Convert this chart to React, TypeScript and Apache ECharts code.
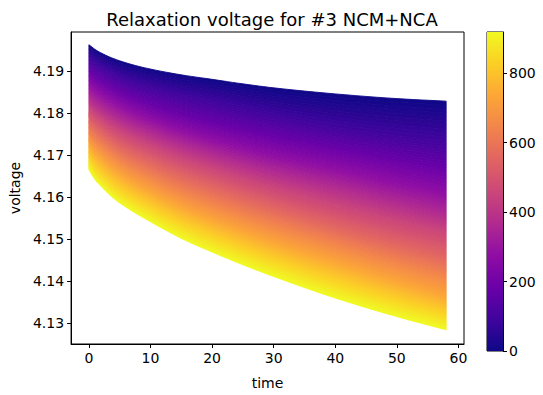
import React, { useEffect, useRef } from "react";
import * as echarts from "echarts";

// relaxation time points (x)
const times = [0, 1, 2, 4, 7, 10, 15, 20, 25, 30, 40, 50, 58];
// cycle numbers of the sampled curves (colour index)
const cycles = [0, 92, 184, 275, 367, 459, 551, 643, 734, 826, 918];

const cycle0 = [4.19637, 4.19525, 4.19439, 4.19306, 4.19163, 4.19056, 4.18918, 4.18811, 4.18703, 4.18608, 4.18463, 4.18351, 4.1829];
const cycle92 = [4.19308, 4.19187, 4.19092, 4.18929, 4.18747, 4.18616, 4.18423, 4.18271, 4.18098, 4.17942, 4.17664, 4.17466, 4.17335];
const cycle184 = [4.1898, 4.1885, 4.18744, 4.18568, 4.18365, 4.18192, 4.1795, 4.17755, 4.1758, 4.17419, 4.17142, 4.16857, 4.16652];
const cycle275 = [4.18681, 4.18542, 4.18432, 4.18252, 4.18027, 4.17844, 4.17579, 4.1736, 4.17161, 4.16978, 4.16665, 4.16326, 4.16078];
const cycle367 = [4.18352, 4.18218, 4.1811, 4.17924, 4.17706, 4.17525, 4.17247, 4.17014, 4.1679, 4.16586, 4.16231, 4.15853, 4.15572];
const cycle459 = [4.18083, 4.17938, 4.17823, 4.17624, 4.17392, 4.17197, 4.16896, 4.16647, 4.16405, 4.16181, 4.15773, 4.15395, 4.15108];
const cycle551 = [4.17814, 4.17646, 4.17515, 4.1729, 4.17039, 4.16831, 4.1651, 4.16242, 4.15982, 4.15735, 4.15286, 4.14869, 4.14556];
const cycle643 = [4.17516, 4.17336, 4.17206, 4.16972, 4.1669, 4.16465, 4.16119, 4.15834, 4.15567, 4.1532, 4.14866, 4.14427, 4.14102];
const cycle734 = [4.17247, 4.17042, 4.16895, 4.16639, 4.16347, 4.16106, 4.15745, 4.15442, 4.15162, 4.14902, 4.14433, 4.13964, 4.13607];
const cycle826 = [4.16948, 4.16731, 4.16575, 4.1631, 4.16017, 4.15774, 4.15396, 4.15088, 4.14795, 4.14523, 4.14024, 4.13569, 4.13236];
const cycle918 = [4.16649, 4.16415, 4.16252, 4.15972, 4.15668, 4.15411, 4.15014, 4.14688, 4.14384, 4.14104, 4.1359, 4.13147, 4.12831];

const curves = [cycle0, cycle92, cycle184, cycle275, cycle367, cycle459, cycle551, cycle643, cycle734, cycle826, cycle918];

const xTicks = [0, 10, 20, 30, 40, 50, 60];
const yTicks = [4.13, 4.14, 4.15, 4.16, 4.17, 4.18, 4.19];
const cbTicks = [0, 200, 400, 600, 800];
const cbMax = 918;

const PLASMA = ["#0d0887", "#41049d", "#6a00a8", "#8f0da4", "#b12a90", "#cc4778", "#e16462", "#f2844b", "#fca636", "#fcce25", "#f0f921"];

function hexToRgb(h: string) {
  return [parseInt(h.slice(1, 3), 16), parseInt(h.slice(3, 5), 16), parseInt(h.slice(5, 7), 16)];
}
function plasma(f: number) {
  const v = Math.max(0, Math.min(1, f)) * (PLASMA.length - 1);
  const i = Math.min(PLASMA.length - 2, Math.floor(v));
  const t = v - i;
  const a = hexToRgb(PLASMA[i]);
  const b = hexToRgb(PLASMA[i + 1]);
  const c = a.map((x, j) => Math.round(x + (b[j] - x) * t));
  return `rgb(${c[0]},${c[1]},${c[2]})`;
}

// monotone cubic (Fritsch-Carlson) smoothing of a pixel polyline, like a smoothed line series
function smoothPts(pts: number[][], sub: number) {
  const n = pts.length;
  const d: number[] = [];
  for (let i = 0; i < n - 1; i++) d.push((pts[i + 1][1] - pts[i][1]) / (pts[i + 1][0] - pts[i][0]));
  const m: number[] = new Array(n);
  m[0] = d[0];
  m[n - 1] = d[n - 2];
  for (let i = 1; i < n - 1; i++) m[i] = d[i - 1] * d[i] <= 0 ? 0 : (d[i - 1] + d[i]) / 2;
  for (let i = 0; i < n - 1; i++) {
    if (d[i] === 0) { m[i] = 0; m[i + 1] = 0; continue; }
    const a = m[i] / d[i], b = m[i + 1] / d[i];
    const s = a * a + b * b;
    if (s > 9) { const t = 3 / Math.sqrt(s); m[i] = t * a * d[i]; m[i + 1] = t * b * d[i]; }
  }
  const out: number[][] = [];
  for (let i = 0; i < n - 1; i++) {
    const [x0, y0] = pts[i];
    const [x1, y1] = pts[i + 1];
    const h = x1 - x0;
    for (let s = 0; s < sub; s++) {
      const t = s / sub;
      const h00 = 2 * t * t * t - 3 * t * t + 1;
      const h10 = t * t * t - 2 * t * t + t;
      const h01 = -2 * t * t * t + 3 * t * t;
      const h11 = t * t * t - t * t;
      out.push([x0 + h * t, h00 * y0 + h10 * h * m[i] + h01 * y1 + h11 * h * m[i + 1]]);
    }
  }
  out.push(pts[n - 1]);
  return out;
}

const FONT = "DejaVu Sans";

export default function App() {
  const ref = useRef<HTMLDivElement>(null);
  useEffect(() => {
    if (!ref.current) return;
    const chart = echarts.init(ref.current, undefined, { renderer: "svg" });
    const bands = curves.slice(0, -1).map((_, k) => [k, k]);
    const axisLine = { show: true, onZero: false, lineStyle: { color: "#000", width: 1 } };
    const tick = { show: true, inside: false, length: 4, lineStyle: { color: "#000", width: 1 } };
    const label = { color: "#000", fontFamily: FONT, fontSize: 14 };
    chart.setOption({
      animation: false,
      backgroundColor: "#fff",
      title: {
        text: "Relaxation voltage for #3 NCM+NCA",
        left: 267,
        textAlign: "center",
        top: 5,
        textStyle: { fontFamily: FONT, fontSize: 18, fontWeight: "normal", color: "#000" },
      },
      grid: [
        { left: 70, top: 32, width: 394, height: 319, show: true, borderColor: "#000", borderWidth: 1 },
        { left: 487, top: 32, width: 16, height: 319, show: true, borderColor: "#000", borderWidth: 1 },
      ],
      xAxis: [
        {
          type: "value",
          gridIndex: 0,
          min: -2.9,
          max: 60.9,
          axisLine,
          splitLine: { show: false },
          axisTick: { ...tick, customValues: xTicks },
          axisLabel: { ...label, customValues: xTicks, margin: 7 },
          name: "time",
          nameLocation: "middle",
          nameGap: 32,
          nameTextStyle: label,
        },
        { type: "value", gridIndex: 1, min: 0, max: 1, show: false },
      ],
      yAxis: [
        {
          type: "value",
          gridIndex: 0,
          min: 4.12493,
          max: 4.19941,
          axisLine,
          splitLine: { show: false },
          axisTick: { ...tick, customValues: yTicks },
          axisLabel: { ...label, customValues: yTicks, margin: 7, formatter: (v: number) => v.toFixed(2) },
          name: "voltage",
          nameLocation: "middle",
          nameGap: 48,
          nameRotate: 90,
          nameTextStyle: label,
        },
        {
          type: "value",
          gridIndex: 1,
          position: "right",
          min: 0,
          max: cbMax,
          axisLine,
          splitLine: { show: false },
          axisTick: { ...tick, customValues: cbTicks },
          axisLabel: { ...label, customValues: cbTicks, margin: 6 },
        },
      ],
      series: [
        {
          type: "custom",
          xAxisIndex: 0,
          yAxisIndex: 0,
          data: bands,
          renderItem: (params: any, api: any) => {
            const k = api.value(0);
            const upper = smoothPts(times.map((t, i) => api.coord([t, curves[k][i]])), 6);
            const lower = smoothPts(times.map((t, i) => api.coord([t, curves[k + 1][i]])), 6);
            const M = 10;
            const children: any[] = [];
            for (let j = 0; j < M; j++) {
              const a = j / M;
              const b = (j + 1) / M;
              const top = upper.map((p, i) => [p[0], p[1] + (lower[i][1] - p[1]) * a]);
              const bot = upper.map((p, i) => [p[0], p[1] + (lower[i][1] - p[1]) * b]).reverse();
              const c = cycles[k] + (cycles[k + 1] - cycles[k]) * ((a + b) / 2);
              const color = plasma(c / cbMax);
              children.push({
                type: "polygon",
                shape: { points: top.concat(bot) },
                style: { fill: color, stroke: color, lineWidth: 0.9 },
              });
            }
            return { type: "group", children };
          },
        },
        {
          type: "custom",
          xAxisIndex: 1,
          yAxisIndex: 1,
          data: [[0, cbMax]],
          renderItem: (params: any, api: any) => {
            const p0 = api.coord([0, 0]);
            const p1 = api.coord([1, api.value(1)]);
            return {
              type: "rect",
              shape: { x: p0[0], y: p1[1], width: p1[0] - p0[0], height: p0[1] - p1[1] },
              style: {
                fill: new echarts.graphic.LinearGradient(
                  0, 1, 0, 0,
                  PLASMA.map((c, i) => ({ offset: i / (PLASMA.length - 1), color: c }))
                ),
              },
            };
          },
        },
      ],
    });
    return () => chart.dispose();
  }, []);
  return <div ref={ref} style={{ position: "fixed", left: 0, top: 0, width: 543, height: 395 }} />;
}
